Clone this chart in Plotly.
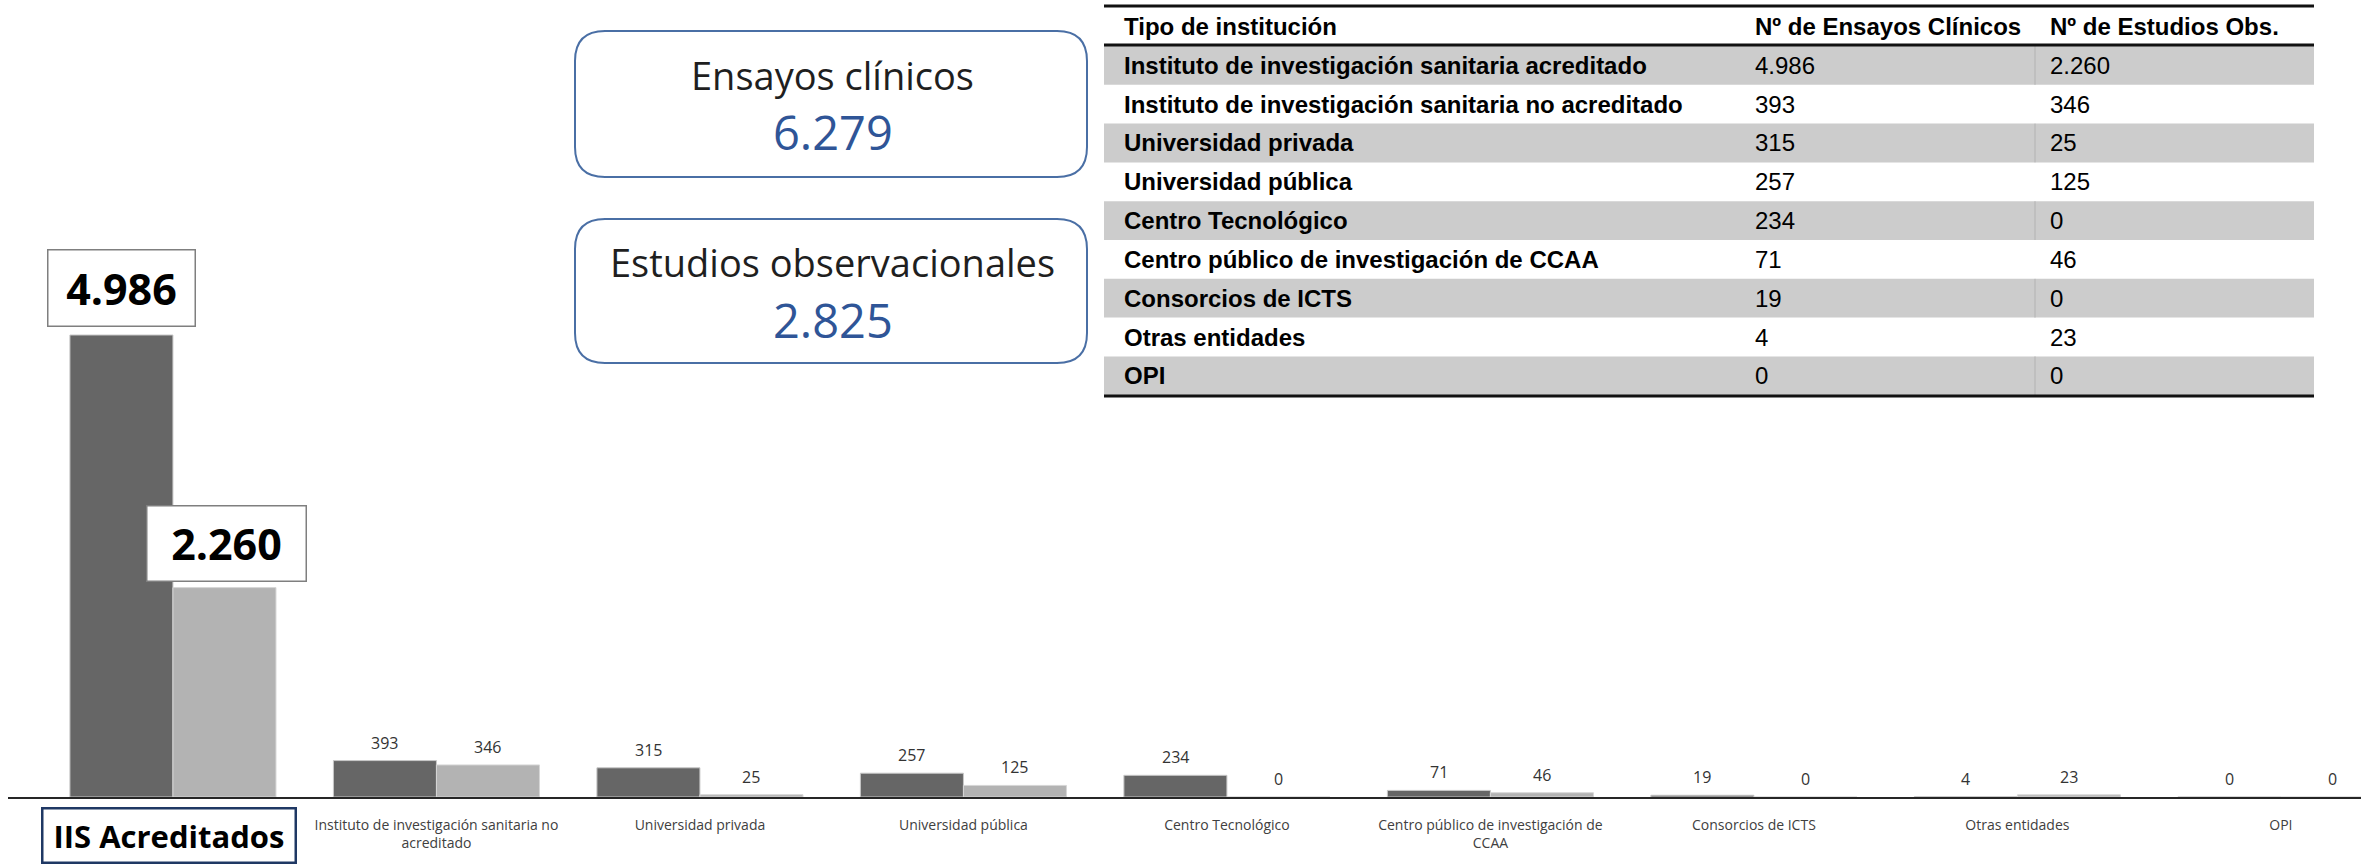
import plotly.graph_objects as go

# Datos por tipo de institución
categorias = [
    "Instituto de investigación sanitaria acreditado",
    "Instituto de investigación sanitaria no acreditado",
    "Universidad privada",
    "Universidad pública",
    "Centro Tecnológico",
    "Centro público de investigación de CCAA",
    "Consorcios de ICTS",
    "Otras entidades",
    "OPI",
]
etiquetas_eje = [
    "",
    "Instituto de investigación sanitaria no<br>acreditado",
    "Universidad privada",
    "Universidad pública",
    "Centro Tecnológico",
    "Centro público de investigación de<br>CCAA",
    "Consorcios de ICTS",
    "Otras entidades",
    "OPI",
]
ensayos = [4986, 393, 315, 257, 234, 71, 19, 4, 0]
estudios = [2260, 346, 25, 125, 0, 46, 0, 23, 0]
etiqueta_destacada = "IIS Acreditados"
cabecera_tabla = ["Tipo de institución", "Nº de Ensayos Clínicos", "Nº de Estudios Obs."]

total_ensayos = sum(ensayos)
total_estudios = sum(estudios)


def fmt(n):
    return f"{n:,}".replace(",", ".")


# Geometría de la página (píxeles)
W, H = 2361, 865
L, R, T, B = 8, 0, 0, 68
PW, PH = W - L - R, H - T - B


def px(x):
    return (x - L) / PW


def py(y):
    return (H - B - y) / PH


SANS = "Open Sans, Noto Sans, sans-serif"
NARROW = "Liberation Sans Narrow, Arial Narrow, Liberation Sans, sans-serif"

fig = go.Figure()
fig.add_trace(go.Bar(
    x=categorias, y=ensayos, name="Ensayos clínicos",
    marker=dict(color="#666666", line=dict(color="#c8c8c8", width=1)),
    hoverinfo="x+y",
))
fig.add_trace(go.Bar(
    x=categorias, y=estudios, name="Estudios observacionales",
    marker=dict(color="#b3b3b3", line=dict(color="#d6d6d6", width=1)),
    hoverinfo="x+y",
))

annotations = []
shapes = []
half = 51.5  # media anchura de barra en píxeles

# Etiquetas de valor sobre las barras
for i in range(1, len(categorias)):
    for serie, dx in ((ensayos, -half), (estudios, half)):
        annotations.append(dict(
            x=categorias[i], y=serie[i], xref="x", yref="y",
            text=fmt(serie[i]), showarrow=False,
            xshift=dx, yshift=18, yanchor="middle",
            font=dict(family=SANS, size=16, color="#333333"),
        ))

# Etiquetas destacadas de la primera categoría
annotations.append(dict(
    x=categorias[0], y=ensayos[0], xref="x", yref="y",
    text=f"<b>{fmt(ensayos[0])}</b>", showarrow=False,
    xshift=-half, yshift=8, yanchor="bottom",
    width=146, height=75, borderpad=0,
    bgcolor="white", bordercolor="#7f7f7f", borderwidth=1.5,
    font=dict(family=SANS, size=43, color="#000000"),
))
annotations.append(dict(
    x=categorias[0], y=estudios[0], xref="x", yref="y",
    text=f"<b>{fmt(estudios[0])}</b>", showarrow=False,
    xshift=half + 2, yshift=6, yanchor="bottom",
    width=158, height=74, borderpad=0,
    bgcolor="white", bordercolor="#7f7f7f", borderwidth=1.5,
    font=dict(family=SANS, size=43, color="#000000"),
))
annotations.append(dict(
    x=categorias[0], y=py(835), xref="x", yref="paper",
    text=f"<b>{etiqueta_destacada}</b>", showarrow=False,
    xshift=-3.5, yanchor="middle",
    width=251, height=52, borderpad=0,
    bgcolor="white", bordercolor="#1f3864", borderwidth=2.5,
    font=dict(family=SANS, size=31, color="#000000"),
))


# Tarjetas de totales con esquinas redondeadas
def rounded_rect(x0, y0, x1, y1, r):
    rx, ry = r / PW, r / PH
    a, b = px(x0), px(x1)
    top, bot = py(y0), py(y1)
    return (
        f"M {a + rx},{top} L {b - rx},{top} Q {b},{top} {b},{top - ry} "
        f"L {b},{bot + ry} Q {b},{bot} {b - rx},{bot} "
        f"L {a + rx},{bot} Q {a},{bot} {a},{bot + ry} "
        f"L {a},{top - ry} Q {a},{top} {a + rx},{top} Z"
    )


tarjetas = [
    ("Ensayos clínicos", total_ensayos, 31, 177, 75, 132),
    ("Estudios observacionales", total_estudios, 219, 363, 262, 320),
]
for titulo, valor, y0, y1, yt, yv in tarjetas:
    shapes.append(dict(
        type="path", xref="paper", yref="paper",
        path=rounded_rect(575, y0, 1087, y1, 30),
        line=dict(color="#4a6fa5", width=2), fillcolor="white", layer="below",
    ))
    annotations.append(dict(
        x=px(832), y=py(yt), xref="paper", yref="paper", text=titulo,
        showarrow=False, xanchor="center", yanchor="middle",
        font=dict(family=SANS, size=38, color="#1f1f1f"),
    ))
    annotations.append(dict(
        x=px(833), y=py(yv), xref="paper", yref="paper", text=fmt(valor),
        showarrow=False, xanchor="center", yanchor="middle",
        font=dict(family=SANS, size=47, color="#2f5597"),
    ))

# Tabla de resumen
tx0, tx1 = 1104, 2314
col_x = [1122, 1753, 2048]
sep_x = 2035
fila0, fila_h = 46.0, 38.8
for k in range(len(categorias)):
    ya = fila0 + k * fila_h
    yb = ya + fila_h
    if k % 2 == 0:
        shapes.append(dict(
            type="rect", xref="paper", yref="paper",
            x0=px(tx0), x1=px(tx1), y0=py(yb), y1=py(ya),
            fillcolor="#cccccc", line=dict(width=0), layer="below",
        ))
        shapes.append(dict(
            type="line", xref="paper", yref="paper",
            x0=px(sep_x), x1=px(sep_x), y0=py(yb), y1=py(ya),
            line=dict(color="#b2b2b2", width=1), layer="below",
        ))
    yc = py((ya + yb) / 2)
    fila = [f"<b>{categorias[k]}</b>", fmt(ensayos[k]), fmt(estudios[k])]
    for c, txt in enumerate(fila):
        annotations.append(dict(
            x=px(col_x[c]), y=yc, xref="paper", yref="paper", text=txt,
            showarrow=False, xanchor="left", yanchor="middle",
            font=dict(family=NARROW, size=24, color="#000000"),
        ))

for c, txt in enumerate(cabecera_tabla):
    annotations.append(dict(
        x=px(col_x[c]), y=py(26), xref="paper", yref="paper", text=f"<b>{txt}</b>",
        showarrow=False, xanchor="left", yanchor="middle",
        font=dict(family=NARROW, size=24, color="#000000"),
    ))

for yl in (6, 45, 396):
    shapes.append(dict(
        type="line", xref="paper", yref="paper",
        x0=px(tx0), x1=px(tx1), y0=py(yl), y1=py(yl),
        line=dict(color="#111111", width=3),
    ))

y_max = (H - B - 335) and ensayos[0] * PH / (H - B - 335)

fig.update_layout(
    width=W, height=H,
    margin=dict(l=L, r=R, t=T, b=B),
    paper_bgcolor="white", plot_bgcolor="white",
    barmode="group", bargap=0.218, bargroupgap=0,
    showlegend=False,
    annotations=annotations, shapes=shapes,
    xaxis=dict(
        type="category", range=[-0.626, 8.304],
        tickmode="array", tickvals=categorias, ticktext=etiquetas_eje,
        showline=True, linecolor="#262626", linewidth=2,
        showgrid=False, zeroline=False, ticks="",
        tickfont=dict(family=SANS, size=14, color="#404040"),
        ticklabelstandoff=14,
    ),
    yaxis=dict(range=[0, y_max], visible=False, fixedrange=True),
)

fig.write_html("out.html")
